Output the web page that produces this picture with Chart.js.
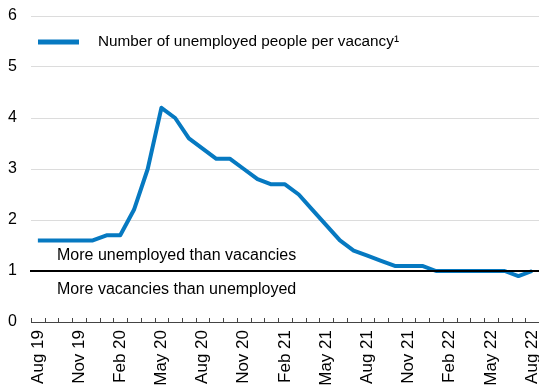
<!DOCTYPE html>
<html>
<head>
<meta charset="utf-8">
<script src="https://cdn.jsdelivr.net/npm/chart.js@4/dist/chart.umd.min.js"></script>
<style>
  html, body { margin: 0; padding: 0; background: #fff; }
  canvas { display: block; }
</style>
</head>
<body>
<canvas id="ratioChart" width="539" height="386"></canvas>
<script>
// months Aug 19 .. Aug 22
const meses = [
  'Aug 19', 'Sep 19', 'Oct 19', 'Nov 19', 'Dec 19',
  'Jan 20', 'Feb 20', 'Mar 20', 'Apr 20', 'May 20', 'Jun 20', 'Jul 20',
  'Aug 20', 'Sep 20', 'Oct 20', 'Nov 20', 'Dec 20',
  'Jan 21', 'Feb 21', 'Mar 21', 'Apr 21', 'May 21', 'Jun 21', 'Jul 21',
  'Aug 21', 'Sep 21', 'Oct 21', 'Nov 21', 'Dec 21',
  'Jan 22', 'Feb 22', 'Mar 22', 'Apr 22', 'May 22', 'Jun 22', 'Jul 22', 'Aug 22'
];
const parados = [
  1.6, 1.6, 1.6, 1.6, 1.6,
  1.7, 1.7, 2.2, 3.0, 4.2, 4.0, 3.6,
  3.4, 3.2, 3.2, 3.0, 2.8,
  2.7, 2.7, 2.5, 2.2, 1.9, 1.6, 1.4,
  1.3, 1.2, 1.1, 1.1, 1.1,
  1.0, 1.0, 1.0, 1.0, 1.0, 1.0, 0.9, 1.0
];
const etiquetasX = ['Aug 19', 'Nov 19', 'Feb 20', 'May 20', 'Aug 20', 'Nov 20', 'Feb 21',
  'May 21', 'Aug 21', 'Nov 21', 'Feb 22', 'May 22', 'Aug 22'];
const ticksY = [0, 1, 2, 3, 4, 5, 6];
const nombreSerie = 'Number of unemployed people per vacancy¹';
const textoArriba = 'More unemployed than vacancies';
const textoAbajo = 'More vacancies than unemployed';

const azul = '#0679c1';

// ticks pequeños hacia arriba, linea negra en 1, leyenda y textos
const extras = {
  id: 'extras',
  afterDatasetsDraw(chart) {
    const ctx = chart.ctx;
    const xs = chart.scales.x;
    const ys = chart.scales.y;
    const area = chart.chartArea;
    const paso = xs.getPixelForValue(1) - xs.getPixelForValue(0);
    const base = ys.getPixelForValue(0);

    ctx.save();
    ctx.strokeStyle = '#444';
    ctx.lineWidth = 1;
    for (let i = 0; i <= meses.length; i++) {
      const x = Math.round(xs.getPixelForValue(0) + (i - 0.5) * paso) + 0.5;
      ctx.beginPath();
      ctx.moveTo(x, base);
      ctx.lineTo(x, base - 4);
      ctx.stroke();
    }

    const y1 = ys.getPixelForValue(1);
    ctx.strokeStyle = '#000';
    ctx.lineWidth = 2;
    ctx.beginPath();
    ctx.moveTo(area.left - 1, y1);
    ctx.lineTo(area.right, y1);
    ctx.stroke();

    ctx.fillStyle = '#000';
    ctx.font = '16px "Liberation Sans", Arial, sans-serif';
    ctx.textAlign = 'left';
    ctx.textBaseline = 'middle';
    ctx.fillText(textoArriba, 57, y1 - 15);
    ctx.fillText(textoAbajo, 57, y1 + 19);

    // leyenda
    ctx.strokeStyle = azul;
    ctx.lineWidth = 5;
    ctx.beginPath();
    ctx.moveTo(38, 42);
    ctx.lineTo(79, 42);
    ctx.stroke();
    ctx.font = '15.3px "Liberation Sans", Arial, sans-serif';
    ctx.fillText(nombreSerie, 98, 42);
    ctx.restore();
  }
};

const ctx = document.getElementById('ratioChart').getContext('2d');
new Chart(ctx, {
  type: 'line',
  data: {
    labels: meses,
    datasets: [{
      label: nombreSerie,
      data: parados,
      borderColor: azul,
      borderWidth: 4,
      pointRadius: 0,
      tension: 0,
      borderJoinStyle: 'round',
      fill: false
    }]
  },
  options: {
    responsive: false,
    animation: false,
    layout: {
      padding: { top: 16, right: 0, bottom: 0, left: 0 }
    },
    plugins: {
      legend: { display: false },
      tooltip: { enabled: false }
    },
    scales: {
      x: {
        offset: true,
        grid: { display: false },
        border: { display: true, color: '#444', width: 1 },
        ticks: {
          autoSkip: false,
          minRotation: 90,
          maxRotation: 90,
          padding: 0,
          color: '#000',
          font: { family: '"Liberation Sans", Arial, sans-serif', size: 17 },
          callback: function(val, i) {
            const l = meses[i];
            return etiquetasX.includes(l) ? l : '';
          }
        },
        afterFit: function(scale) {
          scale.height = 64;
          scale.paddingLeft = 0;
          scale.paddingRight = 0;
        }
      },
      y: {
        min: 0,
        max: 6,
        afterBuildTicks: function(scale) {
          scale.ticks = ticksY.map(v => ({ value: v }));
        },
        grid: {
          drawTicks: false,
          color: function(c) {
            if (c.tick.value === 0 || c.tick.value === 1) return 'rgba(0,0,0,0)';
            return '#dcdcdc';
          },
          lineWidth: 1
        },
        border: { display: false },
        ticks: {
          padding: 14,
          color: '#000',
          font: { family: '"Liberation Sans", Arial, sans-serif', size: 16 }
        },
        afterFit: function(scale) {
          scale.width = 31;
          scale.paddingTop = 0;
          scale.paddingBottom = 0;
        }
      }
    }
  },
  plugins: [extras]
});
</script>
</body>
</html>
